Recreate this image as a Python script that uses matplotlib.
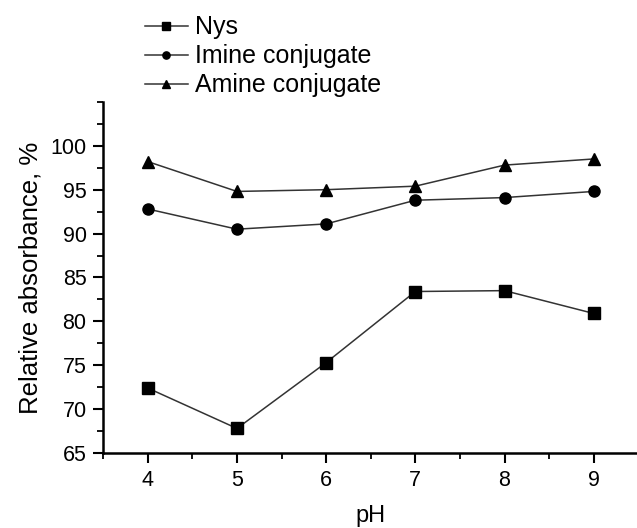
import matplotlib
matplotlib.use("Agg")
import matplotlib.pyplot as plt
from matplotlib.ticker import MultipleLocator

plt.rcParams['font.family'] = ['Liberation Sans', 'DejaVu Sans']

ph = [4, 5, 6, 7, 8, 9]
nys = [72.4, 67.8, 75.3, 83.4, 83.5, 80.9]
imine = [92.8, 90.5, 91.1, 93.8, 94.1, 94.8]
amine = [98.2, 94.8, 95.0, 95.4, 97.8, 98.5]

fig = plt.figure(figsize=(6.37, 5.28), dpi=100)
ax = fig.add_axes([0.162, 0.142, 0.84, 0.665])

style = dict(color='#333333', lw=1.1, markersize=8, markerfacecolor='black', markeredgecolor='black')
ax.plot(ph, nys, marker='s', label='Nys', **style)
ax.plot(ph, imine, marker='o', label='Imine conjugate', **style)
ax.plot(ph, amine, marker='^', label='Amine conjugate', **style)

ax.set_xlim(3.5, 9.5)
ax.set_ylim(65, 105)
ax.set_yticks([65, 70, 75, 80, 85, 90, 95, 100])
ax.xaxis.set_minor_locator(MultipleLocator(0.5))
ax.yaxis.set_minor_locator(MultipleLocator(2.5))

for side in ['top', 'right']:
    ax.spines[side].set_visible(False)
for side in ['left', 'bottom']:
    ax.spines[side].set_linewidth(1.8)

ax.tick_params(which='major', direction='out', length=7, width=1.5, labelsize=15.5, pad=5)
ax.tick_params(which='minor', direction='out', length=4, width=1.3)

ax.set_xlabel('pH', fontsize=17, labelpad=10)
ax.set_ylabel('Relative absorbance, %', fontsize=18.5, labelpad=6)

fig.legend(loc='upper left', bbox_to_anchor=(0.212, 0.99), frameon=False,
           fontsize=18, handlelength=1.7, handletextpad=0.3, labelspacing=0.2,
           borderaxespad=0.0, markerscale=0.65)

fig.savefig('out.png', dpi=100)
